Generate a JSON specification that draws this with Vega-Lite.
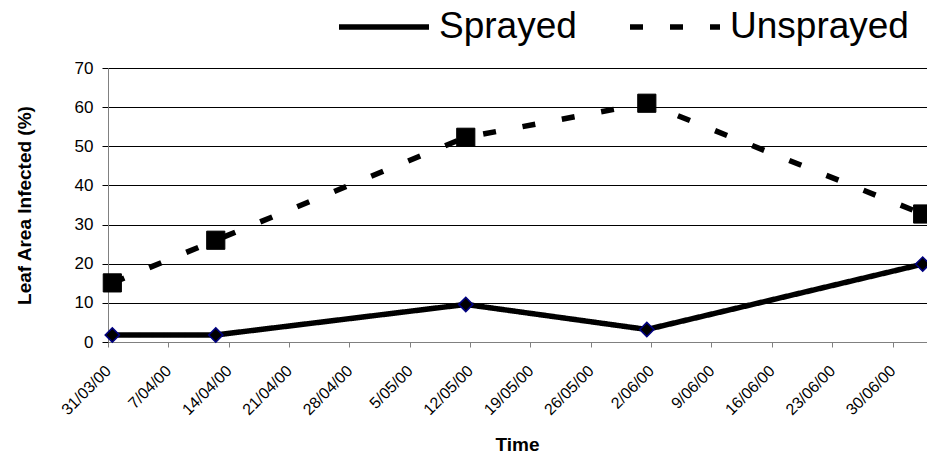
{
  "$schema": "https://vega.github.io/schema/vega-lite/v6.json",
  "width": 819,
  "height": 274,
  "autosize": {"type": "none"},
  "padding": {"left": 108, "top": 68, "right": 0, "bottom": 115},
  "background": "white",
  "config": {
    "view": {"stroke": null},
    "font": "Liberation Sans",
    "axis": {"labelFont": "Liberation Sans", "titleFont": "Liberation Sans", "labelColor": "#000000", "titleColor": "#000000"}
  },
  "data": {
    "values": [
      {"date": "2000-03-31T12:00:00", "series": "Sprayed", "value": 1.8},
      {"date": "2000-04-12T12:00:00", "series": "Sprayed", "value": 1.8},
      {"date": "2000-05-11T12:00:00", "series": "Sprayed", "value": 9.6},
      {"date": "2000-06-01T12:00:00", "series": "Sprayed", "value": 3.2},
      {"date": "2000-07-03T12:00:00", "series": "Sprayed", "value": 19.9},
      {"date": "2000-03-31T12:00:00", "series": "Unsprayed", "value": 15.1},
      {"date": "2000-04-12T12:00:00", "series": "Unsprayed", "value": 26.0},
      {"date": "2000-05-11T12:00:00", "series": "Unsprayed", "value": 52.3},
      {"date": "2000-06-01T12:00:00", "series": "Unsprayed", "value": 61.0},
      {"date": "2000-07-03T12:00:00", "series": "Unsprayed", "value": 32.7}
    ]
  },
  "encoding": {
    "x": {
      "field": "date",
      "type": "temporal",
      "scale": {
        "domain": [{"year": 2000, "month": "March", "date": 31}, {"year": 2000, "month": "July", "date": 4}],
        "nice": false
      },
      "axis": {
        "title": "Time",
        "titleFontSize": 19,
        "titleFontWeight": "bold",
        "titleX": 409,
        "titleY": 108,
        "titleBaseline": "alphabetic",
        "titleAlign": "center",
        "values": [
          {"year": 2000, "month": "March", "date": 31},
          {"year": 2000, "month": "April", "date": 7},
          {"year": 2000, "month": "April", "date": 14},
          {"year": 2000, "month": "April", "date": 21},
          {"year": 2000, "month": "April", "date": 28},
          {"year": 2000, "month": "May", "date": 5},
          {"year": 2000, "month": "May", "date": 12},
          {"year": 2000, "month": "May", "date": 19},
          {"year": 2000, "month": "May", "date": 26},
          {"year": 2000, "month": "June", "date": 2},
          {"year": 2000, "month": "June", "date": 9},
          {"year": 2000, "month": "June", "date": 16},
          {"year": 2000, "month": "June", "date": 23},
          {"year": 2000, "month": "June", "date": 30}
        ],
        "format": "%-d/%m/%y",
        "labelAngle": -45,
        "labelAlign": "right",
        "labelBaseline": "middle",
        "labelFontSize": 16,
        "labelPadding": 21,
        "labelOverlap": false,
        "labelFlush": false,
        "grid": false,
        "domainColor": "#808080",
        "domainWidth": 1,
        "tickColor": "#808080",
        "tickSize": 5
      }
    },
    "y": {
      "field": "value",
      "type": "quantitative",
      "scale": {"domain": [0, 70], "nice": false},
      "axis": {
        "title": "Leaf Area Infected (%)",
        "titleFontSize": 19,
        "titleFontWeight": "bold",
        "titleX": -78,
        "titleY": 137,
        "titleAngle": -90,
        "titleBaseline": "alphabetic",
        "titleAlign": "center",
        "values": [0, 10, 20, 30, 40, 50, 60, 70],
        "labelFontSize": 17,
        "labelPadding": 9,
        "grid": true,
        "gridColor": "#000000",
        "gridWidth": 1,
        "gridOpacity": 1,
        "domainColor": "#808080",
        "tickColor": "#000000",
        "tickSize": 6
      }
    }
  },
  "layer": [
    {
      "mark": {"type": "line", "color": "#000000", "strokeWidth": 5.5, "strokeCap": "butt", "strokeJoin": "miter"},
      "encoding": {
        "strokeDash": {
          "field": "series",
          "type": "nominal",
          "scale": {"domain": ["Sprayed", "Unsprayed"], "range": [[1, 0], [13, 27]]},
          "legend": {
            "title": null,
            "orient": "none",
            "legendX": 228,
            "legendY": -89,
            "direction": "horizontal",
            "padding": 0,
            "symbolType": "stroke",
            "symbolSize": 8100,
            "symbolStrokeWidth": 5.5,
            "symbolStrokeColor": "#000000",
            "symbolOpacity": 1,
            "labelFont": "Liberation Sans",
            "labelFontSize": 37,
            "labelColor": "#000000",
            "labelLimit": 400,
            "labelOffset": 7,
            "columnPadding": 42
          }
        }
      }
    },
    {
      "transform": [{"filter": "datum.series === 'Sprayed'"}],
      "mark": {"type": "point", "shape": "diamond", "filled": true, "fill": "#000000", "stroke": "#000080", "opacity": 1, "strokeWidth": 1.6, "size": 200}
    },
    {
      "transform": [{"filter": "datum.series === 'Unsprayed'"}],
      "mark": {"type": "point", "shape": "square", "filled": true, "fill": "#000000", "stroke": "#000000", "opacity": 1, "strokeWidth": 1, "size": 330}
    }
  ]
}
